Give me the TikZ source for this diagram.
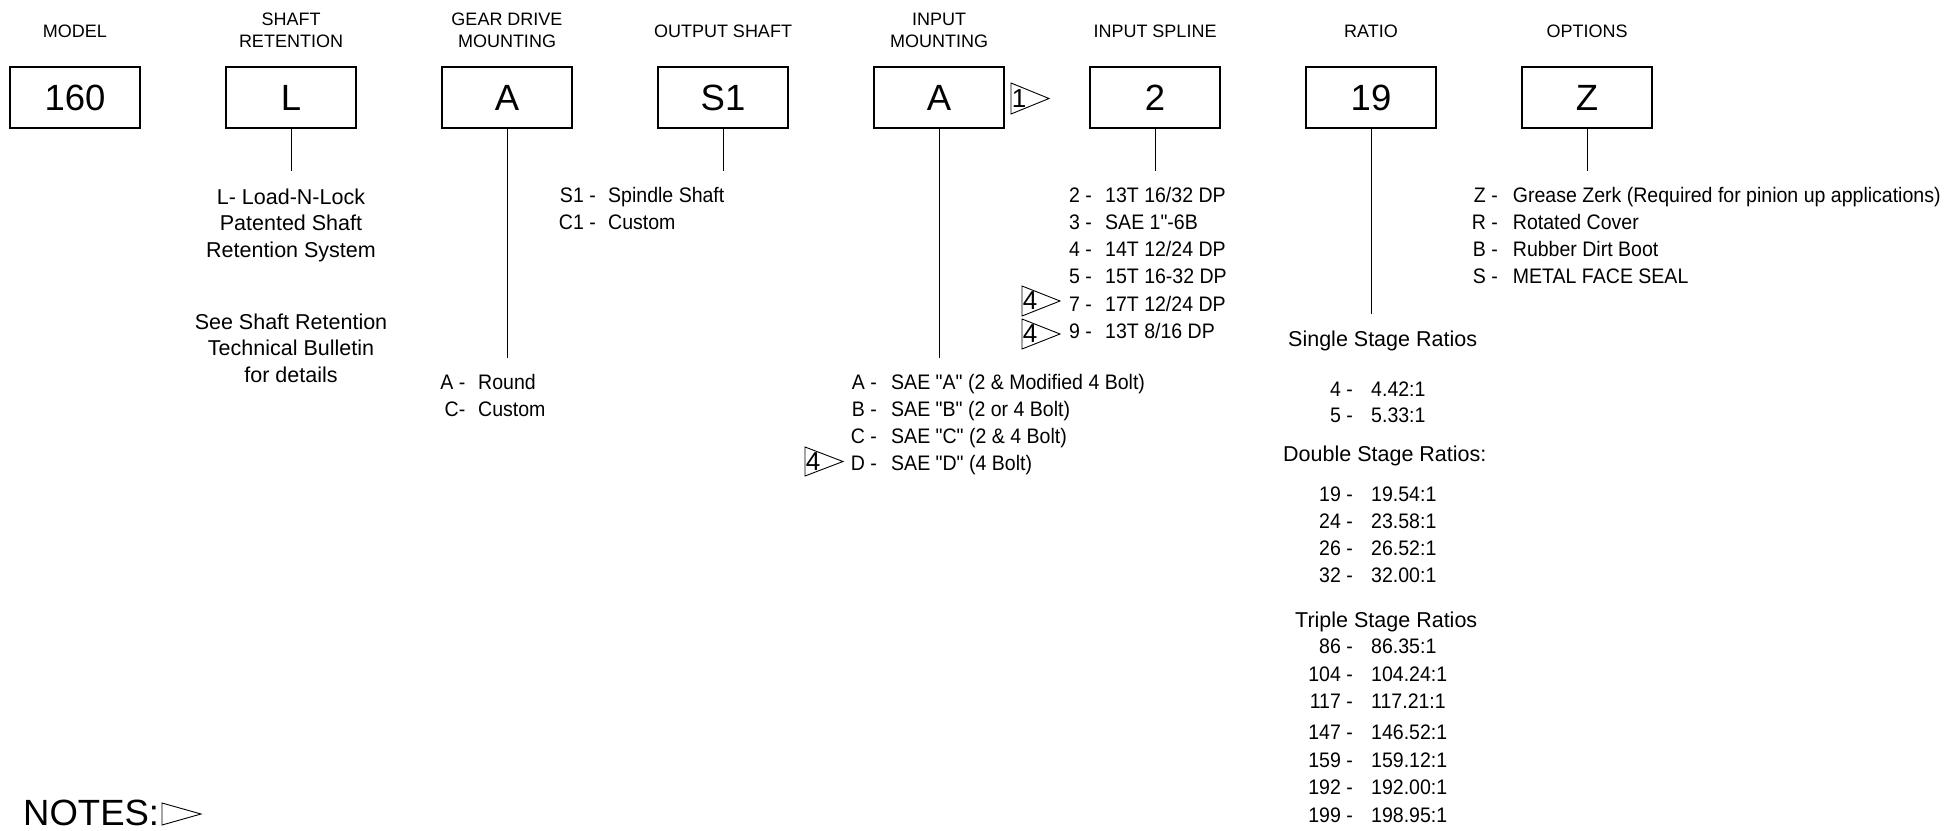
\documentclass[tikz,border=0pt]{standalone}
\usepackage{fontspec}
\setmainfont{Liberation Sans}[Ligatures=TeXOff]
\newfontfamily\listfont{Liberation Sans}[Ligatures=TeXOff, FakeStretch=0.93]
\newcommand\FHdr{\fontsize{18}{22}\selectfont}
\newcommand\FBx{\fontsize{36.5}{36.5}\selectfont}
\newcommand\FTxt{\fontsize{21.5}{26.7}\selectfont}
\newcommand\FLst{\listfont\fontsize{21}{26.7}\selectfont}
\newcommand\FFlag{\fontsize{26}{26}\selectfont}
\newcommand\FNote{\fontsize{36.5}{37}\selectfont}
\begin{document}
\begin{tikzpicture}[x=1pt,y=-1pt,
  codebox/.style={draw, line width=1.1pt, minimum width=130pt, minimum height=61pt, inner sep=0pt, font=\FBx},
  hdr/.style={align=center, font=\FHdr, inner sep=0pt},
  conn/.style={line width=1pt},
  txt/.style={anchor=base, font=\FTxt, inner sep=0pt},
  lab/.style={anchor=base east, font=\FLst, inner sep=0pt},
  val/.style={anchor=base west, font=\FLst, inner sep=0pt},
  subhdr/.style={anchor=base west, font=\FTxt, inner sep=0pt},
  flagtri/.style={draw, line width=0.9pt},
  flagnum/.style={anchor=west, font=\FFlag, inner sep=0.6pt}]
\useasboundingbox (0,0) rectangle (1956,830);

% headers
\node[hdr] (h1) at (75,31) {MODEL};
\node[hdr] (h2) at (291,30) {SHAFT\\RETENTION};
\node[hdr] (h3) at (507,30) {GEAR DRIVE\\MOUNTING};
\node[hdr] (h4) at (723,31) {OUTPUT SHAFT};
\node[hdr] (h5) at (939,30) {INPUT\\MOUNTING};
\node[hdr] (h6) at (1155,31) {INPUT SPLINE};
\node[hdr] (h7) at (1371,31) {RATIO};
\node[hdr] (h8) at (1587,31) {OPTIONS};

% code boxes
\node[codebox] (b1) at (75,97.5) {160};
\node[codebox] (b2) at (291,97.5) {L};
\node[codebox] (b3) at (507,97.5) {A};
\node[codebox] (b4) at (723,97.5) {S1};
\node[codebox] (b5) at (939,97.5) {A};
\node[codebox] (b6) at (1155,97.5) {2};
\node[codebox] (b7) at (1371,97.5) {19};
\node[codebox] (b8) at (1587,97.5) {Z};

% connector ends
\coordinate (e2) at (291,171);
\coordinate (e3) at (507,358);
\coordinate (e4) at (723,171);
\coordinate (e5) at (939,358);
\coordinate (e6) at (1155,171);
\coordinate (e7) at (1371,314);
\coordinate (e8) at (1587,171);
\foreach \k in {2,...,8} {\draw[conn] (b\k.south) -- (e\k);}

% note flag between boxes
\draw[flagtri] (1011,83) -- (1011,114) -- (1049,98.5) -- cycle;
\node[flagnum] (f1) at (1011,98.5) {1};

% shaft retention
\node[txt] (sr1) at (291,204) {L- Load-N-Lock};
\node[txt] (sr2) at (291,230.7) {Patented Shaft};
\node[txt] (sr3) at (291,257.4) {Retention System};
\node[txt] (sr4) at (291,329) {See Shaft Retention};
\node[txt] (sr5) at (291,355.7) {Technical Bulletin};
\node[txt] (sr6) at (291,382.4) {for details};

% gear drive mounting
\foreach \l/\v [count=\i from 0] in {{A -}/{Round},{C-}/{Custom}} {
  \node[lab] (gl\i) at (465.5,389+27*\i) {\l};
  \node[val] (gv\i) at (478,389+27*\i) {\v};
}

% output shaft
\foreach \l/\v [count=\i from 0] in {{S1 -}/{Spindle Shaft},{C1 -}/{Custom}} {
  \node[lab] (ol\i) at (596,202.3+27*\i) {\l};
  \node[val] (ov\i) at (608,202.3+27*\i) {\v};
}

% input mounting
\foreach \l/\v [count=\i from 0] in {{A -}/{SAE "A" (2 \& Modified 4 Bolt)},{B -}/{SAE "B" (2 or 4 Bolt)},{C -}/{SAE "C" (2 \& 4 Bolt)},{D -}/{SAE "D" (4 Bolt)}} {
  \node[lab] (ml\i) at (877,389+27*\i) {\l};
  \node[val] (mv\i) at (891,389+27*\i) {\v};
}
\draw[flagtri] (805,447) -- (805,476) -- (843,461.5) -- cycle;
\node[flagnum] (f4a) at (805,461.5) {4};

% input spline
\foreach \l/\v [count=\i from 0] in {{2 -}/{13T 16/32 DP},{3 -}/{SAE 1"-6B},{4 -}/{14T 12/24 DP},{5 -}/{15T 16-32 DP},{7 -}/{17T 12/24 DP},{9 -}/{13T 8/16 DP}} {
  \node[lab] (sl\i) at (1092,202.3+27.2*\i) {\l};
  \node[val] (sv\i) at (1105,202.3+27.2*\i) {\v};
}
\draw[flagtri] (1022,286) -- (1022,316) -- (1060,301) -- cycle;
\node[flagnum] (f4b) at (1022,301) {4};
\draw[flagtri] (1022,319) -- (1022,349) -- (1060,334) -- cycle;
\node[flagnum] (f4c) at (1022,334) {4};

% ratio
\node[subhdr] (rs) at (1288,346.3) {Single Stage Ratios};
\foreach \l/\v [count=\i from 0] in {{4 -}/{4.42:1},{5 -}/{5.33:1}} {
  \node[lab] (r1l\i) at (1353,396.3+26*\i) {\l};
  \node[val] (r1v\i) at (1371,396.3+26*\i) {\v};
}
\node[subhdr] (rd) at (1283,461.3) {Double Stage Ratios:};
\foreach \l/\v [count=\i from 0] in {{19 -}/{19.54:1},{24 -}/{23.58:1},{26 -}/{26.52:1},{32 -}/{32.00:1}} {
  \node[lab] (r2l\i) at (1353,501.3+27*\i) {\l};
  \node[val] (r2v\i) at (1371,501.3+27*\i) {\v};
}
\node[subhdr] (rt) at (1295,627.3) {Triple Stage Ratios};
\foreach \l/\v/\y [count=\i from 0] in {{86 -}/{86.35:1}/646,{104 -}/{104.24:1}/673.5,{117 -}/{117.21:1}/701,{147 -}/{146.52:1}/732,{159 -}/{159.12:1}/759.5,{192 -}/{192.00:1}/787,{199 -}/{198.95:1}/815} {
  \node[lab] (r3l\i) at (1353,\y+7.5) {\l};
  \node[val] (r3v\i) at (1371,\y+7.5) {\v};
}

% options
\foreach \l/\v [count=\i from 0] in {{Z -}/{Grease Zerk (Required for pinion up applications)},{R -}/{Rotated Cover},{B -}/{Rubber Dirt Boot},{S -}/{METAL FACE SEAL}} {
  \node[lab] (pl\i) at (1498,202.3+27*\i) {\l};
  \node[val] (pv\i) at (1512.7,202.3+27*\i) {\v};
}

% notes
\node[anchor=base west, font=\FNote, inner sep=0pt] (notes) at (23,825) {NOTES:};
\draw[flagtri] (162,803) -- (162,825) -- (201,814) -- cycle;
\end{tikzpicture}
\end{document}
